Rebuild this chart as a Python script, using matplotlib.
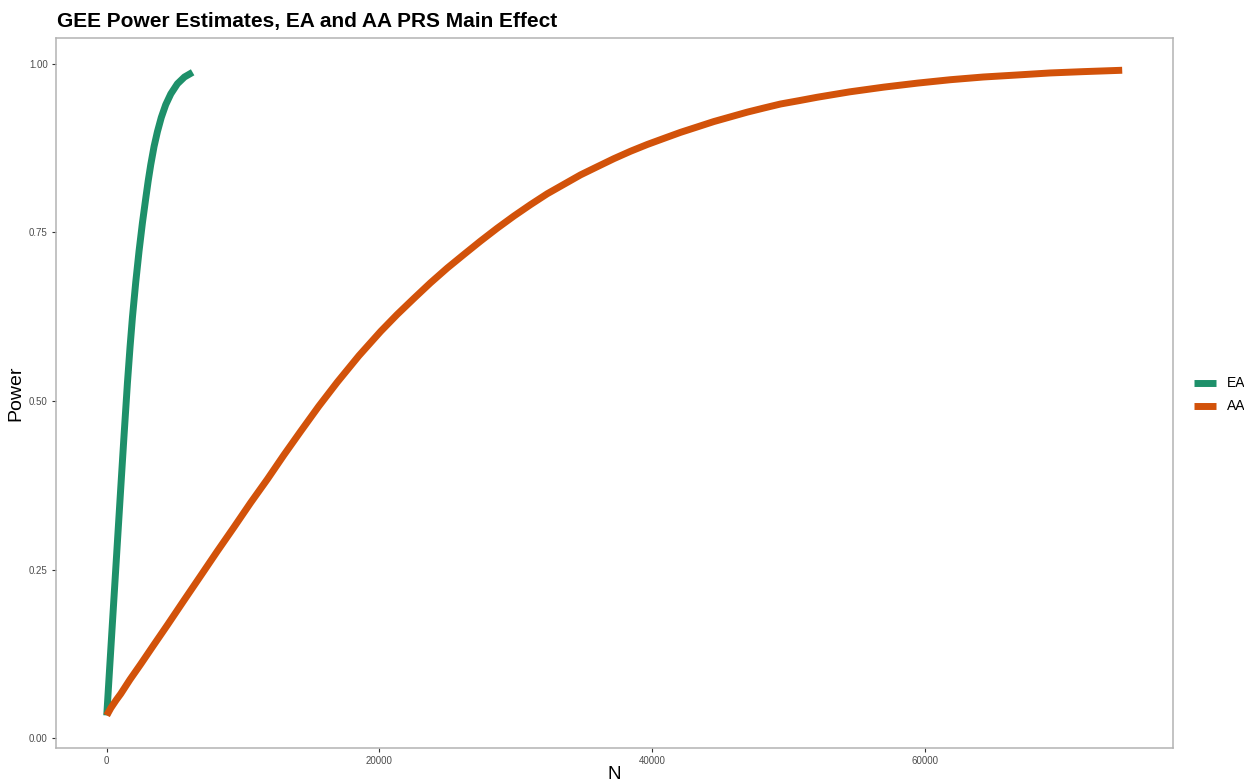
import matplotlib
matplotlib.use("Agg")
import matplotlib.pyplot as plt

# Power estimates by total sample size N
ea_n = [0, 169, 367, 535, 785, 1027, 1269, 1518, 1709, 1885, 2127, 2369,
        2618, 2860, 3040, 3227, 3470, 3718, 4000, 4327, 4700, 5185, 5700,
        6300]
ea_power = [0.034, 0.090, 0.155, 0.210, 0.292, 0.371, 0.449, 0.527, 0.580,
            0.624, 0.676, 0.722, 0.764, 0.800, 0.826, 0.850, 0.877, 0.899,
            0.920, 0.939, 0.955, 0.970, 0.980, 0.987]

aa_n = [0, 300, 700, 1027, 1700, 2494, 3400, 4452, 5650, 6894, 8100, 9336,
        10550, 11786, 13000, 14228, 15550, 16920, 18500, 20095, 21300, 22538,
        23750, 24987, 26200, 27429, 28650, 29872, 31100, 32318, 33540, 34763,
        35980, 37206, 38430, 39655, 40870, 42097, 43320, 44540, 45770, 47000,
        48200, 49432, 50800, 52122, 54500, 57007, 59500, 61899, 64300, 66790,
        69200, 71676, 74500]
aa_power = [0.034, 0.045, 0.057, 0.066, 0.087, 0.110, 0.137, 0.168, 0.204,
            0.241, 0.277, 0.313, 0.349, 0.384, 0.420, 0.455, 0.492, 0.528,
            0.567, 0.603, 0.628, 0.652, 0.675, 0.697, 0.717, 0.737, 0.756,
            0.774, 0.791, 0.807, 0.821, 0.835, 0.847, 0.859, 0.870, 0.880,
            0.889, 0.898, 0.906, 0.914, 0.921, 0.928, 0.934, 0.940, 0.945,
            0.950, 0.958, 0.965, 0.971, 0.976, 0.980, 0.983, 0.986, 0.988,
            0.990]

series_labels = ["EA", "AA"]
series_colors = ["#1e906a", "#d2520a"]
x_ticks = [0, 20000, 40000, 60000]
y_ticks = [0.00, 0.25, 0.50, 0.75, 1.00]

plt.rcParams["font.family"] = ["Liberation Sans", "DejaVu Sans"]

fig = plt.figure(figsize=(12.44, 7.82), dpi=100)
ax = fig.add_axes([0.045, 0.0439, 0.8979, 0.9075])

for xs, ys, lab, col in zip([ea_n, aa_n], [ea_power, aa_power],
                            series_labels, series_colors):
    ax.plot(xs, ys, color=col, lw=5, solid_capstyle="butt",
            solid_joinstyle="round", label=lab)

ax.margins(x=0.05, y=0.05)
ax.set_xticks(x_ticks)
ax.set_xticklabels([str(t) for t in x_ticks])
ax.set_yticks(y_ticks)
ax.set_yticklabels([f"{t:.2f}" for t in y_ticks])
ax.tick_params(axis="both", labelsize=7, colors="#333333", labelcolor="#4d4d4d",
               length=3, width=0.8, pad=3)

for sp in ax.spines.values():
    sp.set_color("#b3b3b3")
    sp.set_linewidth(1.1)

ax.set_xlabel("N", fontsize=13.5, labelpad=0)
ax.set_ylabel("Power", fontsize=14, labelpad=3)

fig.text(0.046, 0.972, "GEE Power Estimates, EA and AA PRS Main Effect",
         fontsize=15, fontweight="bold", ha="left", va="center")

leg = ax.legend(loc="center left", bbox_to_anchor=(0.9598, 0.495),
                bbox_transform=fig.transFigure, frameon=False, fontsize=10,
                handlelength=1.6, handletextpad=0.75, labelspacing=0.65,
                borderaxespad=0.0, borderpad=0.0)

fig.savefig("out.png", dpi=100, facecolor="white")
